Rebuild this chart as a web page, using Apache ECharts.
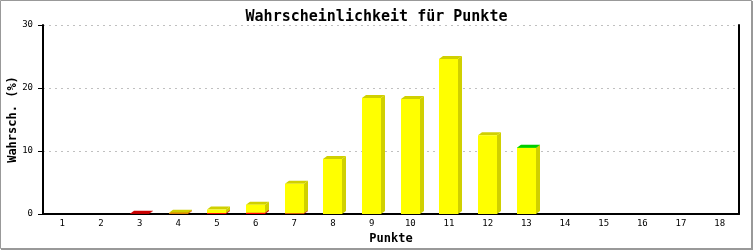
<!DOCTYPE html>
<html>
<head>
<meta charset="utf-8">
<script src="https://cdn.jsdelivr.net/npm/echarts@6/dist/echarts.min.js"></script>
<style>
html,body{margin:0;padding:0;background:#fff;}
#c{width:753px;height:250px;}
</style>
</head>
<body>
<div id="c"></div>
<script>
const categories = ['1','2','3','4','5','6','7','8','9','10','11','12','13','14','15','16','17','18'];
const redValues    = [0,0,0.05,0.08,0.15,0.2,0.1,0,0,0,0,0,0,0,0,0,0,0];
const yellowValues = [0,0,0,0.1,0.55,1.28,4.7,8.73,18.4,18.25,24.6,12.5,10.48,0,0,0,0,0];
const greenValues  = [0,0,0,0,0,0,0,0,0,0,0,0,0.05,0,0,0,0,0];
const yTicks = [0,10,20,30];

const segColors = [
  {front:'#ff0000', dark:'#cc0000'},
  {front:'#ffff00', dark:'#d0d000'},
  {front:'#00ff00', dark:'#00cc00'}
];

const data = categories.map((c,i)=>[i, redValues[i], yellowValues[i], greenValues[i]]);

const FONT = 'DejaVu Sans Mono';
const chart = echarts.init(document.getElementById('c'), null, {renderer:'canvas'});

function renderItem(params, api){
  const idx = api.value(0);
  const catW = api.size([1,0])[0];
  const w = catW*0.5;
  const dx = 4, dy = 3;
  const children = [];
  let base = 0;
  for(let s=0;s<3;s++){
    const v = api.value(s+1);
    if(!(v>0)) continue;
    const p0 = api.coord([idx, base]);
    const p1 = api.coord([idx, base+v]);
    const x0 = Math.round(p0[0]-w/2), x1 = x0+Math.round(w);
    const yb = p0[1], yt = p1[1];
    children.push({type:'polygon', shape:{points:[[x1,yb],[x1+dx,yb-dy],[x1+dx,yt-dy],[x1,yt]]}, style:{fill:segColors[s].dark}});
    children.push({type:'polygon', shape:{points:[[x0,yt],[x1,yt],[x1+dx,yt-dy],[x0+dx,yt-dy]]}, style:{fill:segColors[s].dark}});
    children.push({type:'rect', shape:{x:x0, y:yt, width:x1-x0, height:yb-yt}, style:{fill:segColors[s].front}});
    base += v;
  }
  return {type:'group', children};
}

chart.setOption({
  animation:false,
  backgroundColor:'#fff',
  title:{
    text:'Wahrscheinlichkeit für Punkte',
    left:'center', top:5,
    textStyle:{fontFamily:FONT, fontSize:15, fontWeight:'bold', color:'#000'}
  },
  grid:{left:43, right:14, top:25, bottom:36, containLabel:false, outerBoundsMode:'none'},
  xAxis:{
    type:'category', data:categories,
    name:'Punkte', nameLocation:'middle', nameGap:19, nameMoveOverlap:false,
    nameTextStyle:{fontFamily:FONT, fontSize:12, fontWeight:'bold', color:'#000'},
    axisLine:{lineStyle:{color:'#000', width:2}},
    axisTick:{show:false},
    axisLabel:{fontFamily:FONT, fontSize:9, color:'#000', margin:5},
    splitLine:{show:false}
  },
  yAxis:[{
    type:'value', min:yTicks[0], max:yTicks[yTicks.length-1], interval:10,
    name:'Wahrsch. (%)', nameLocation:'middle', nameGap:24, nameMoveOverlap:false,
    nameTextStyle:{fontFamily:FONT, fontSize:12, fontWeight:'bold', color:'#000'},
    axisLine:{show:true, lineStyle:{color:'#000', width:2}},
    axisTick:{show:true, length:5, lineStyle:{color:'#000', width:1}},
    axisLabel:{fontFamily:FONT, fontSize:9, color:'#000', margin:10},
    splitLine:{show:true, lineStyle:{color:'#c0c0c0', width:1, type:[2,4]}}
  },{
    type:'value', position:'right', min:yTicks[0], max:yTicks[yTicks.length-1], interval:10,
    axisLine:{show:true, lineStyle:{color:'#000', width:2}},
    axisTick:{show:false}, axisLabel:{show:false}, splitLine:{show:false}
  }],
  graphic:[{
    type:'rect', shape:{x:0.5, y:0.5, width:751, height:248},
    style:{fill:null, stroke:'#999', lineWidth:1}, z:100
  },{
    type:'polyline', shape:{points:[[752,1],[752,249],[1,249]]},
    style:{fill:null, stroke:'#999', lineWidth:2}, z:100
  }],
  series:[{
    type:'custom', renderItem, data, encode:{x:0, y:[1,2,3]}, z:5, clip:false
  }]
});
</script>
</body>
</html>
